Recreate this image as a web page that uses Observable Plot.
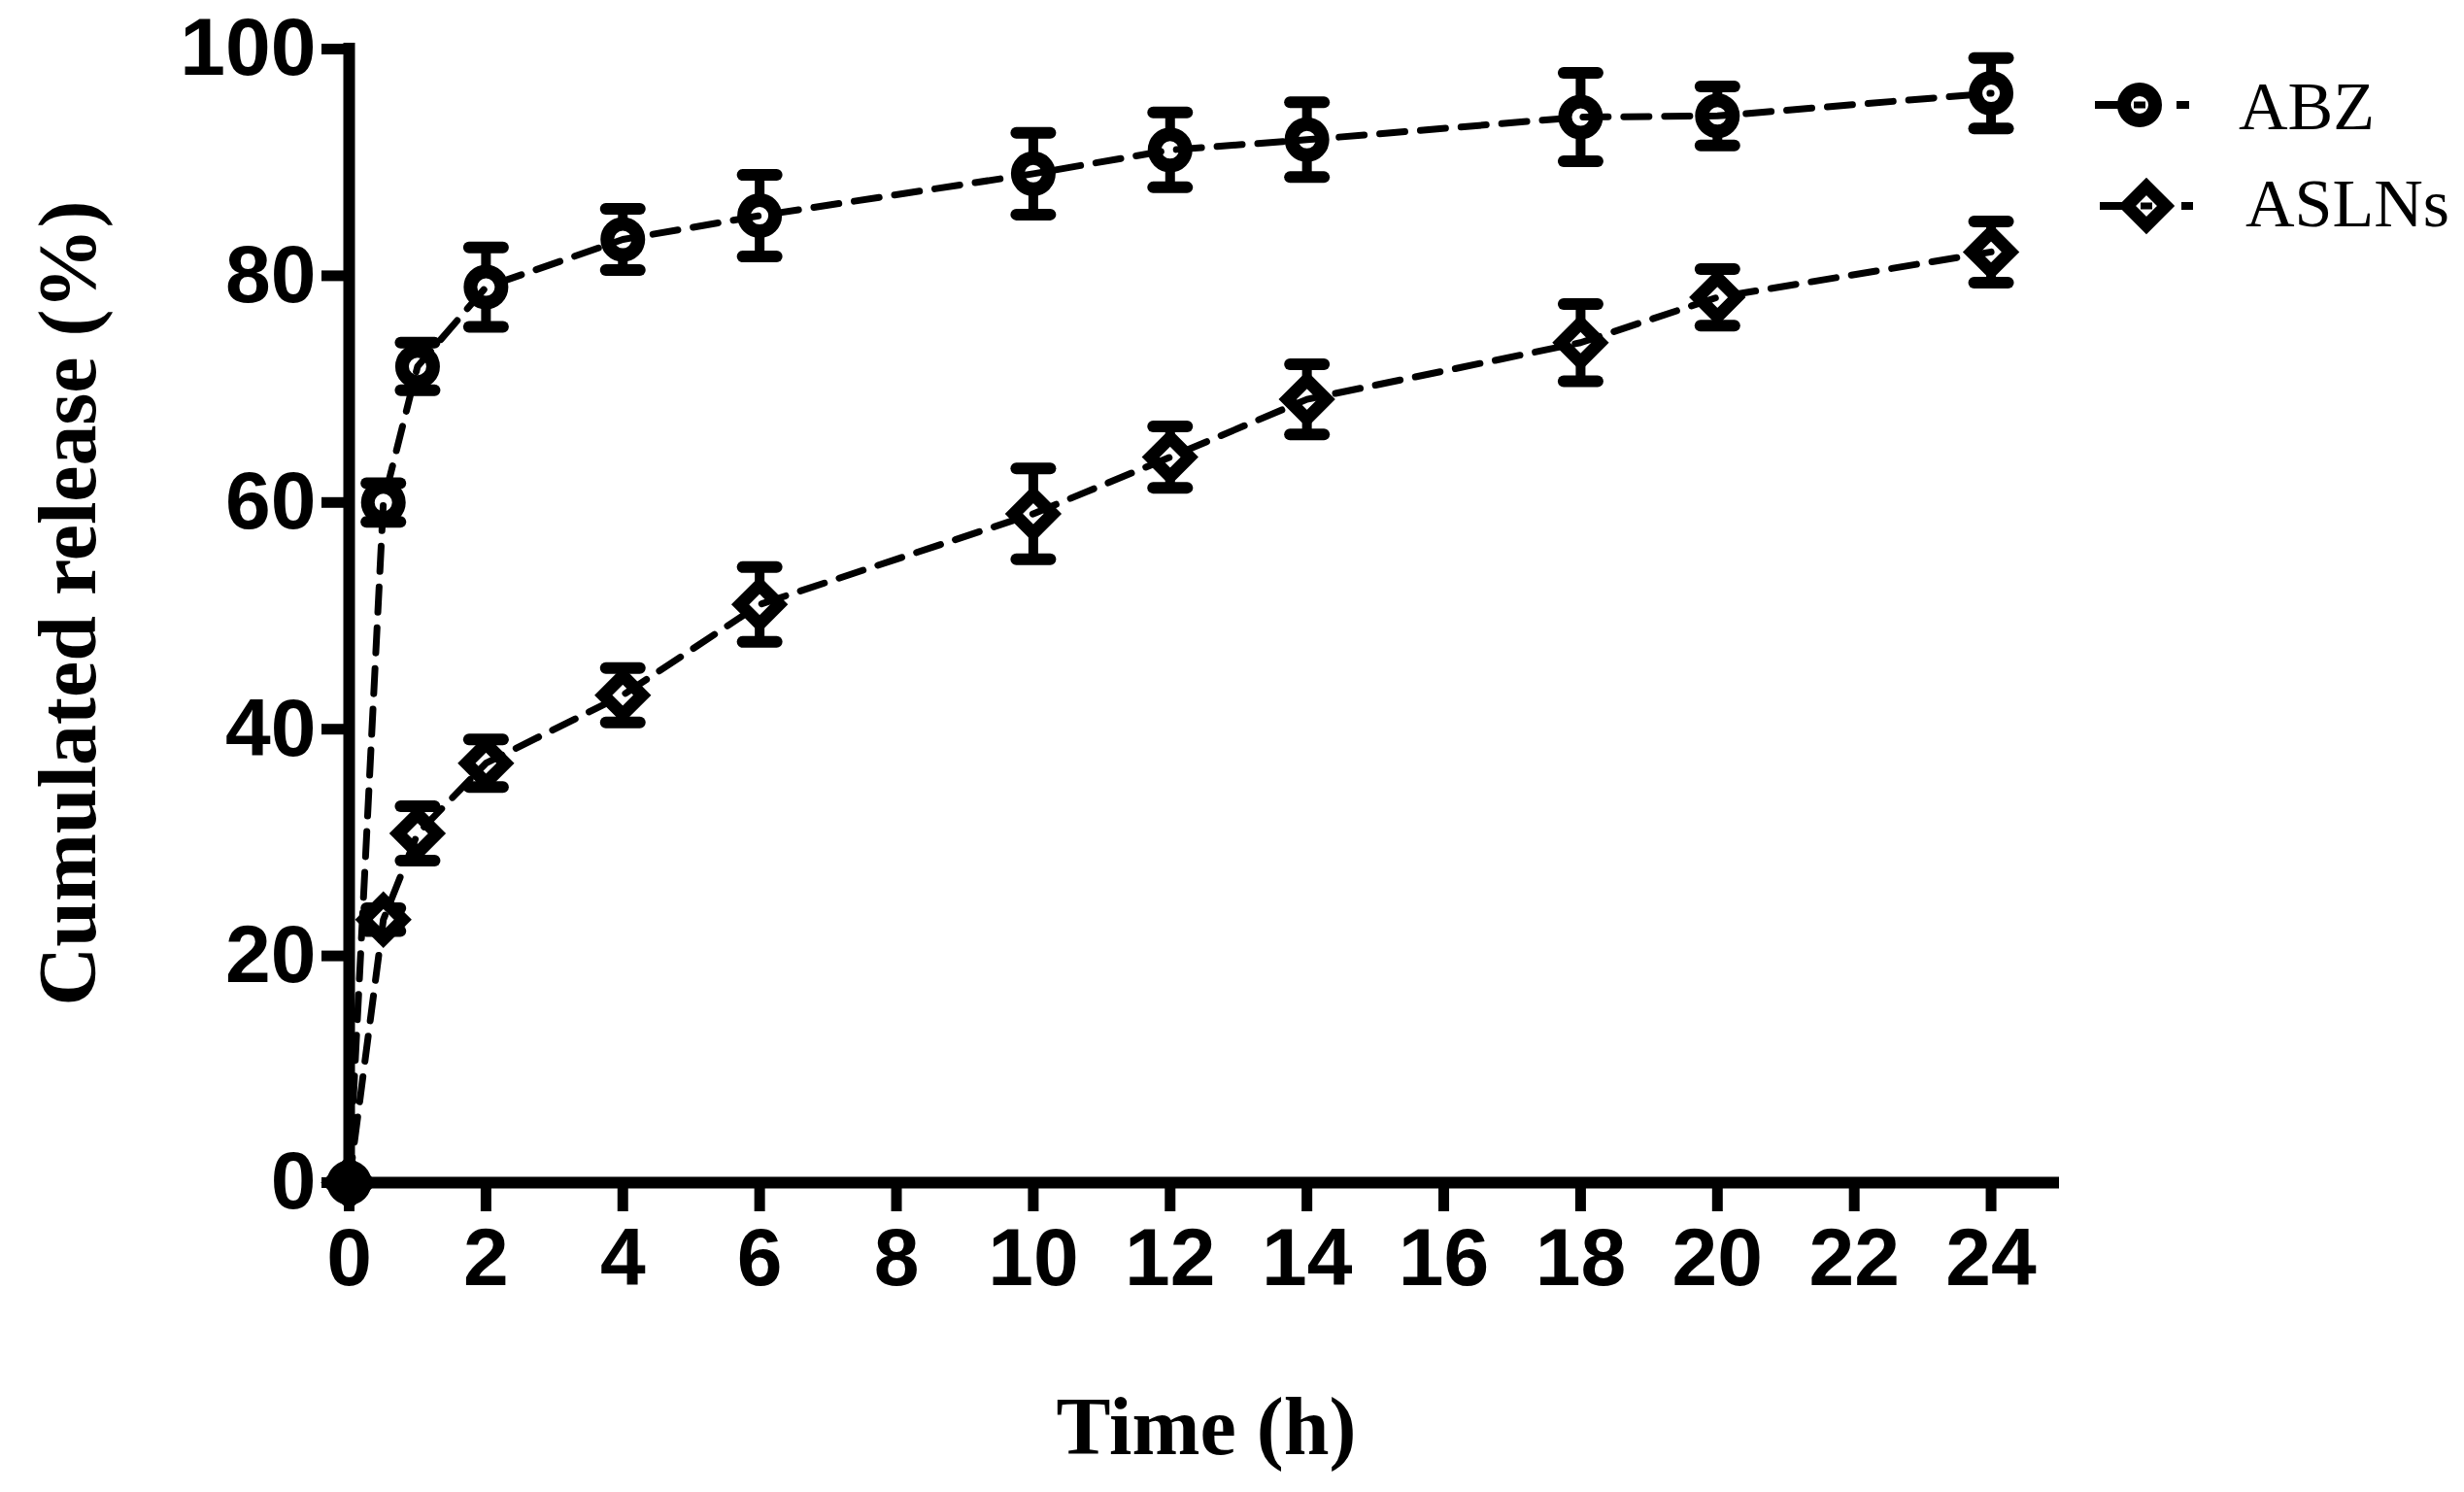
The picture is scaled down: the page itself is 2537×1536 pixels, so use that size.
<!DOCTYPE html>
<html>
<head>
<meta charset="utf-8">
<script src="https://cdn.jsdelivr.net/npm/d3@7"></script>
<script src="https://cdn.jsdelivr.net/npm/@observablehq/plot@0.6"></script>
<style>
  html, body { margin: 0; padding: 0; background: #fff; }
  #wrap { position: relative; width: 2537px; height: 1536px; }
  #wrap svg { position: absolute; left: 0; top: 0; }
</style>
</head>
<body>
<div id="wrap"></div>
<script>
// ---- data ----
const times    = [0, 0.5, 1, 2, 4, 6, 10, 12, 14, 18, 20, 24];
const abzMean  = [0, 60, 72, 79, 83.2, 85.3, 89, 91.1, 92, 94, 94.1, 96.1];
const abzSD    = [0, 1.7, 2.1, 3.5, 2.7, 3.6, 3.6, 3.3, 3.3, 3.9, 2.6, 3.1];
const aslnMean = [0, 23.2, 30.8, 37, 43, 51, 59, 64, 69.1, 74.1, 78.1, 82.1];
const aslnSD   = [0, 1.0, 2.4, 2.1, 2.4, 3.3, 4.0, 2.7, 3.1, 3.4, 2.5, 2.7];
const seriesNames = ["ABZ", "ASLNs"];
const xTicks = [0, 2, 4, 6, 8, 10, 12, 14, 16, 18, 20, 22, 24];
const yTicks = [0, 20, 40, 60, 80, 100];
const xLabel = "Time (h)";
const yLabel = "Cumulated release (%)";

const abzRows  = times.map((t, i) => ({t, mean: abzMean[i],  sd: abzSD[i],  series: seriesNames[0]}));
const aslnRows = times.map((t, i) => ({t, mean: aslnMean[i], sd: aslnSD[i], series: seriesNames[1]}));
const allRows = abzRows.concat(aslnRows);
const errRows = allRows.filter(d => d.sd > 0);

const capSymbol = {
  draw(context, size) {
    const w = Math.sqrt(size / Math.PI);
    context.moveTo(-w, 0);
    context.lineTo(w, 0);
  }
};

const tickFont = "'Liberation Sans', Arial, sans-serif";
const serif = "'Liberation Serif', 'Times New Roman', serif";

const chart = Plot.plot({
  width: 2537,
  height: 1536,
  marginLeft: 359,
  marginRight: 417,
  marginTop: 50,
  marginBottom: 319,
  x: {domain: [0, 25]},
  y: {domain: [0, 100]},
  style: {background: "white", color: "black"},
  marks: [
    Plot.axisX({ticks: xTicks, tickSize: 30, tickPadding: 16, strokeWidth: 11,
      fontSize: 84, fontWeight: "bold", fontFamily: tickFont, label: null, tickFormat: d => String(d)}),
    Plot.axisY({ticks: yTicks, tickSize: 28, tickPadding: 6, strokeWidth: 11,
      fontSize: 84, fontWeight: "bold", fontFamily: tickFont, label: null, tickFormat: d => String(d)}),
    Plot.ruleX([0], {y1: 0, y2: 100, stroke: "black", strokeWidth: 12, strokeLinecap: "square"}),
    Plot.ruleY([0], {x1: 0, x2: 25, stroke: "black", strokeWidth: 12}),
    // error bars
    Plot.ruleX(errRows, {x: "t", y1: d => d.mean - d.sd, y2: d => d.mean + d.sd, stroke: "black", strokeWidth: 10}),
    Plot.dot(errRows, {x: "t", y: d => d.mean + d.sd, symbol: capSymbol, r: 17.5, fill: "none", stroke: "black", strokeWidth: 12, strokeLinecap: "round"}),
    Plot.dot(errRows, {x: "t", y: d => d.mean - d.sd, symbol: capSymbol, r: 17.5, fill: "none", stroke: "black", strokeWidth: 12, strokeLinecap: "round"}),
    // markers
    Plot.dot(abzRows, {x: "t", y: "mean", symbol: "circle", r: 16, fill: d => d.t === 0 ? "black" : "white", stroke: "black", strokeWidth: 14}),
    Plot.dot(aslnRows, {x: "t", y: "mean", symbol: "diamond2", r: 18, fill: d => d.t === 0 ? "black" : "white", stroke: "black", strokeWidth: 13}),
    // dashed lines
    Plot.line(allRows, {x: "t", y: "mean", z: "series", stroke: "black", strokeWidth: 7, strokeDasharray: "26,16"})
  ]
});
document.getElementById("wrap").appendChild(chart);

// ---- overlay: axis titles and legend ----
const ov = d3.select("#wrap").append("svg")
  .attr("width", 2537).attr("height", 1536)
  .style("pointer-events", "none");

ov.append("text")
  .attr("x", 1242).attr("y", 1497)
  .attr("text-anchor", "middle")
  .attr("font-family", serif).attr("font-weight", "bold").attr("font-size", 84)
  .text(xLabel);

ov.append("text")
  .attr("transform", "translate(98,621) rotate(-90)")
  .attr("text-anchor", "middle")
  .attr("font-family", serif).attr("font-weight", "bold").attr("font-size", 84)
  .text(yLabel);

const legendItems = [
  {name: seriesNames[0], sym: d3.symbolCircle, cx: 2203, cy: 108, seg: [[2157, 2200], [2241, 2254]], tx: 2305, ty: 133, size: Math.PI * 16 * 16, sw: 14},
  {name: seriesNames[1], sym: d3.symbolDiamond2, cx: 2210, cy: 212, seg: [[2162, 2205], [2246, 2258]], tx: 2312, ty: 233, size: Math.PI * 18 * 18, sw: 13}
];
for (const it of legendItems) {
  for (const [a, b] of it.seg) {
    ov.append("line").attr("x1", a).attr("x2", b).attr("y1", it.cy).attr("y2", it.cy)
      .attr("stroke", "black").attr("stroke-width", 8);
  }
  ov.append("path")
    .attr("d", d3.symbol(it.sym, it.size)())
    .attr("transform", `translate(${it.cx},${it.cy})`)
    .attr("fill", "white").attr("stroke", "black").attr("stroke-width", it.sw);
  ov.append("line").attr("x1", it.cx - 20).attr("x2", it.cx + 20).attr("y1", it.cy).attr("y2", it.cy)
    .attr("stroke", "black").attr("stroke-width", 7).attr("stroke-dasharray", "0,14,12,40");
  ov.append("text").attr("x", it.tx).attr("y", it.ty)
    .attr("font-family", serif).attr("font-size", 70)
    .text(it.name);
}
</script>
</body>
</html>
